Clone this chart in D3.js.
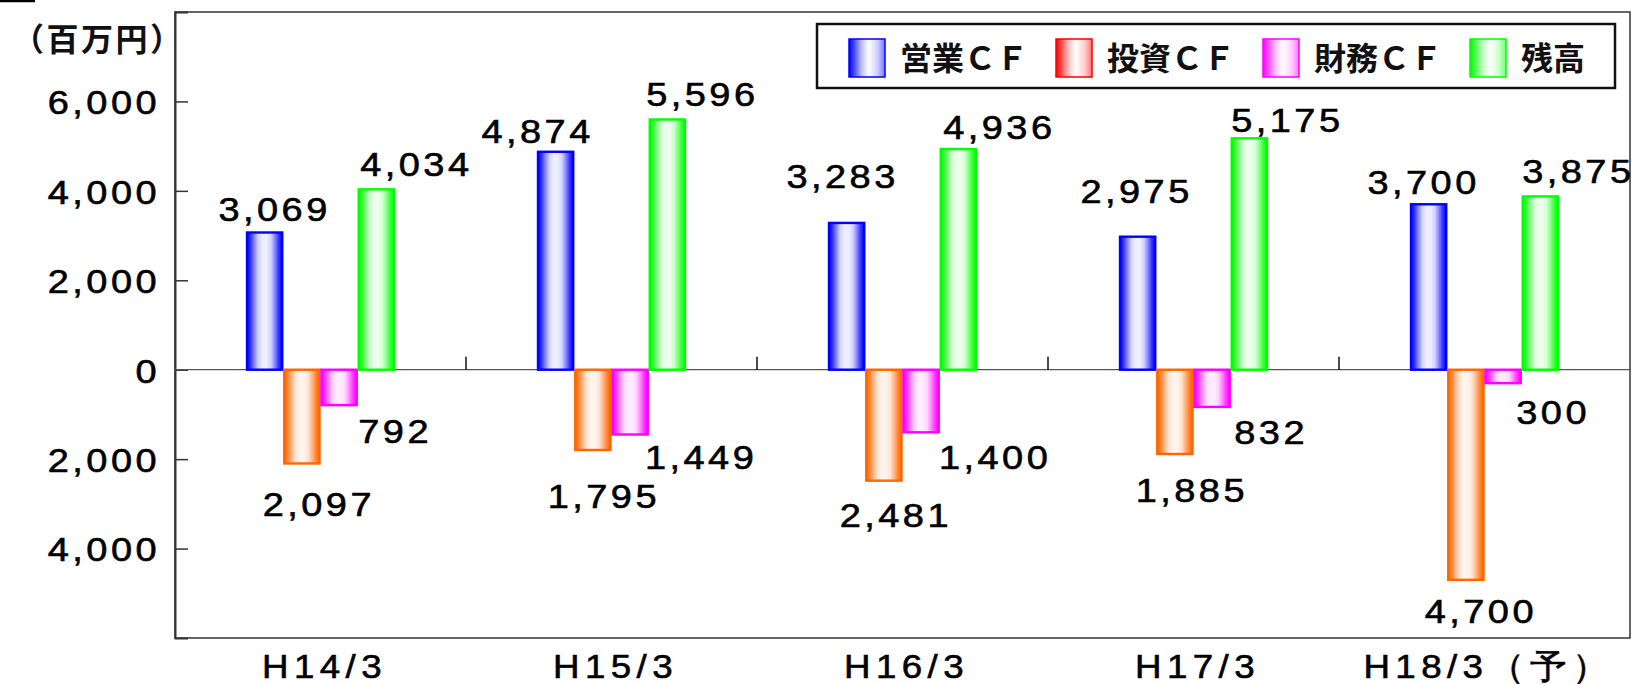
<!DOCTYPE html>
<html>
<head>
<meta charset="utf-8">
<script src="https://cdn.jsdelivr.net/npm/d3@7"></script>
<style>
  html, body { margin: 0; padding: 0; background: #fff; }
  svg { display: block; }
</style>
</head>
<body>
<svg id="chart" width="1636" height="684"></svg>
<script>
// ---------- DATA ----------
const categories = ["H14/3", "H15/3", "H16/3", "H17/3", "H18/3（予）"];
const seriesKeys = ["operating", "investing", "financing", "balance"];
const seriesNames = ["営業ＣＦ", "投資ＣＦ", "財務ＣＦ", "残高"];
const operatingCF = [3069, 4874, 3283, 2975, 3700];
const investingCF = [-2097, -1795, -2481, -1885, -4700];
const financingCF = [-792, -1449, -1400, -832, -300];
const balance = [4034, 5596, 4936, 5175, 3875];
const yTickValues = [6000, 4000, 2000, 0, -2000, -4000];
const unitLabel = "（百万円）";

// ---------- STYLE / LAYOUT ----------
const barColors = { operating: "#0000ff", investing: "#ff6600", financing: "#ff00ff", balance: "#00ff00" };
const legendColors = { operating: "#0000ff", investing: "#ff0000", financing: "#ff00ff", balance: "#00ff00" };
// label nudges [dx, dy] from bar centre / bar end to label centre (layout only)
const labelOffsets = {
  operating: [[10, -23], [-18, -21], [-4, -47], [-1, -46], [-5, -22]],
  investing: [[17, 41], [11, 46], [12, 34], [17, 36], [15, 31]],
  financing: [[56, 26], [71, 23], [74, 25], [59, 25], [50, 29]],
  balance:   [[40, -25], [35, -25], [41, -22], [38, -18], [38, -25]]
};
const plot = { left: 175, right: 1630, top: 12, bottom: 638 };
const numFont = "'Liberation Sans', Arial, sans-serif";
const cjkFont = "'Noto Sans CJK JP', 'Noto Sans', sans-serif";
const SX = 1.15;

const dataBySeries = { operating: operatingCF, investing: investingCF, financing: financingCF, balance: balance };
const rows = categories.map((c, i) => {
  const r = { category: c, index: i };
  seriesKeys.forEach(k => r[k] = dataBySeries[k][i]);
  return r;
});

const svg = d3.select("#chart");
const defs = svg.append("defs");

// bar gradients (banded, symmetric)
const bandStops = [[0, 1], [0.1, 0.8], [0.2, 0.5], [0.32, 0.18], [0.44, 0.07], [0.56, 0.07], [0.68, 0.18], [0.8, 0.5], [0.9, 0.8], [1, 1]];
seriesKeys.forEach(k => {
  const g = defs.append("linearGradient").attr("id", "bar-" + k)
    .attr("x1", "0").attr("x2", "1").attr("y1", "0").attr("y2", "0");
  bandStops.forEach(([o, a]) => g.append("stop").attr("offset", o)
    .attr("stop-color", barColors[k]).attr("stop-opacity", a));
  const lg = defs.append("linearGradient").attr("id", "leg-" + k)
    .attr("x1", "0").attr("x2", "1").attr("y1", "0").attr("y2", "0");
  [[0, 1], [0.15, 0.7], [0.35, 0.25], [0.55, 0.0], [0.8, 0.2], [1, 0.55]].forEach(([o, a]) =>
    lg.append("stop").attr("offset", o).attr("stop-color", legendColors[k]).attr("stop-opacity", a));
});

// ---------- SCALES ----------
const y = d3.scaleLinear().domain([-6000, 8000]).range([plot.bottom, plot.top]);
const x0 = d3.scaleBand().domain(categories).range([plot.left, plot.right]).paddingInner(0).paddingOuter(0);
const bw = x0.bandwidth();
const groupW = bw * 0.512;
const x1 = d3.scaleBand().domain(seriesKeys).range([(bw - groupW) / 2, (bw + groupW) / 2]).padding(0);
const fmt = d3.format(",");

function stretchedText(parent, x, yy, str, opts) {
  return parent.append("text")
    .attr("transform", `translate(${x},${yy}) scale(${opts.sx || SX},1)`)
    .attr("x", 0).attr("y", 0)
    .attr("dy", opts.dy || "0.36em")
    .attr("text-anchor", opts.anchor || "middle")
    .style("font-family", opts.family || numFont)
    .style("font-size", (opts.size || 33) + "px")
    .style("font-weight", opts.weight || "normal")
    .style("letter-spacing", (opts.ls !== undefined ? opts.ls : 3) + "px")
    .attr("fill", "#000")
    .attr("stroke", "#000").attr("stroke-width", 0.6)
    .text(str);
}

// top-left small rule
svg.append("line").attr("x1", 0).attr("x2", 35).attr("y1", 1).attr("y2", 1)
  .attr("stroke", "#000").attr("stroke-width", 2.5);

// plot frame
svg.append("rect").attr("x", plot.left).attr("y", plot.top)
  .attr("width", plot.right - plot.left).attr("height", plot.bottom - plot.top)
  .attr("fill", "none").attr("stroke", "#333").attr("stroke-width", 1.5);

// y axis (ticks inward)
const yAxis = d3.axisLeft(y).tickValues(yTickValues).tickSize(-13).tickFormat("");
const yg = svg.append("g").attr("transform", `translate(${plot.left},0)`).call(yAxis);
yg.select(".domain").attr("stroke", "#333").attr("stroke-width", 2);
yg.selectAll(".tick line").attr("stroke", "#333").attr("stroke-width", 1.5);
yTickValues.forEach(v => {
  stretchedText(svg, 160, y(v) + 1, fmt(Math.abs(v)), { anchor: "end", ls: 3 });
});

// zero line
svg.append("line").attr("x1", plot.left).attr("x2", plot.right)
  .attr("y1", y(0)).attr("y2", y(0)).attr("stroke", "#555").attr("stroke-width", 1.2);

// category boundary ticks on zero line (upward)
categories.forEach((c, i) => {
  if (i === 0) return;
  svg.append("line").attr("x1", x0(c)).attr("x2", x0(c))
    .attr("y1", y(0)).attr("y2", y(0) - 13).attr("stroke", "#111").attr("stroke-width", 1.5);
});

// bars
const groups = svg.append("g").selectAll("g").data(rows).join("g")
  .attr("transform", d => `translate(${x0(d.category)},0)`);
groups.selectAll("rect").data(d => seriesKeys.map(k => ({ key: k, value: d[k] })))
  .join("rect")
  .attr("x", d => x1(d.key) + 1)
  .attr("width", x1.bandwidth() - 2)
  .attr("y", d => y(Math.max(0, d.value)))
  .attr("height", d => Math.abs(y(d.value) - y(0)))
  .attr("fill", d => `url(#bar-${d.key})`)
  .attr("stroke", d => barColors[d.key])
  .attr("stroke-width", 2.4);

// value labels
rows.forEach((r, i) => {
  seriesKeys.forEach(k => {
    const v = r[k];
    const cx = x0(r.category) + x1(k) + x1.bandwidth() / 2;
    const [dx, dy] = labelOffsets[k][i];
    stretchedText(svg, cx + dx, y(v) + dy, fmt(Math.abs(v)), { ls: 3 });
  });
});

// category labels
categories.forEach(c => {
  stretchedText(svg, x0(c) + bw / 2 + 4, 666, c, { size: 34, ls: 5, sx: 1.08 });
});

// unit label
svg.append("text").attr("x", 12).attr("y", 39).attr("dy", "0.36em")
  .style("font-family", cjkFont).style("font-size", "32px").style("font-weight", 700)
  .style("letter-spacing", "2.5px")
  .attr("fill", "#111").text(unitLabel);

// legend
const leg = svg.append("g");
leg.append("rect").attr("x", 817).attr("y", 24).attr("width", 798).attr("height", 64)
  .attr("fill", "#fff").attr("stroke", "#111").attr("stroke-width", 2.5);
seriesKeys.forEach((k, i) => {
  const sx = 849 + i * 207;
  leg.append("rect").attr("x", sx).attr("y", 39).attr("width", 36).attr("height", 38)
    .attr("fill", `url(#leg-${k})`).attr("stroke", legendColors[k]).attr("stroke-width", 1.5);
  leg.append("text").attr("x", sx + 51).attr("y", 58).attr("dy", "0.36em")
    .style("font-family", cjkFont).style("font-size", "32px").style("font-weight", 700)
    .attr("fill", "#111").text(seriesNames[i]);
});
</script>
</body>
</html>
